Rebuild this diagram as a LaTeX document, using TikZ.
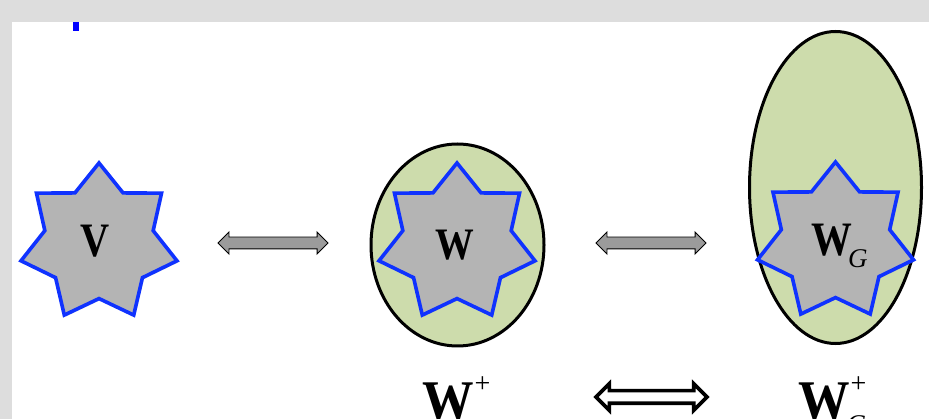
\documentclass[tikz,border=0pt]{standalone}
\usepackage{fontspec}
\setmainfont{Liberation Serif}
\usetikzlibrary{shapes.geometric,shapes.arrows,shadows}
\definecolor{bggray}{RGB}{221,221,221}
\definecolor{stargray}{RGB}{180,180,180}
\definecolor{starblue}{RGB}{15,50,255}
\definecolor{palegreen}{RGB}{205,220,172}
\definecolor{arrowgray}{RGB}{155,155,155}
\newcommand\hsq[2]{\scalebox{#1}[1]{#2}}
\begin{document}
\begin{tikzpicture}[x=1pt,y=-1pt,
  starbox/.style={star, star points=7, star point ratio=1.44, minimum size=160pt, inner sep=0pt,
    fill=stargray, draw=starblue, line width=3.6pt,
    drop shadow={opacity=0.25, shadow xshift=1.5pt, shadow yshift=-1.5pt}},
  blob/.style={ellipse, fill=palegreen, draw=black, line width=3pt, inner sep=0pt},
  grayarrow/.style={double arrow, fill=arrowgray, draw=black, line width=0.9pt,
    inner xsep=0pt, inner ysep=5.5pt, double arrow head extend=5pt,
    double arrow tip angle=90, minimum height=110pt},
  hollowarrow/.style={double arrow, fill=white, draw=black, line width=3.6pt,
    inner xsep=0pt, inner ysep=4.5pt, double arrow head extend=7pt,
    double arrow tip angle=90, minimum height=111pt},
  lbl/.style={anchor=base west, inner sep=0pt, font=\bfseries}
]
\useasboundingbox (0,0) rectangle (929,419);
\clip (0,0) rectangle (929,419);
\fill[bggray] (0,0) rectangle (929,419);
\fill[white] (12,22) rectangle (929,419);
\fill[blue] (73,22) rectangle (79,31);

\node[blob, minimum width=173pt, minimum height=202pt] (ellw) at (457.5,245) {};
\node[blob, minimum width=172pt, minimum height=312pt] (ellwg) at (835.5,187.5) {};

\node[starbox] (sv) at (99,243) {};
\node[starbox] (sw) at (457,243) {};
\node[starbox] (swg) at (835.5,242) {};

\node[lbl] (tv) at (80,257) {\fontsize{48}{48}\selectfont\hsq{0.84}{V}};
\node[lbl] (tw) at (435,260) {\fontsize{45}{45}\selectfont\hsq{0.86}{W}};
\node[lbl] (twg) at (811,256) {\fontsize{48}{48}\selectfont\hsq{0.85}{W}\hspace{-4pt}\raisebox{-12pt}{\fontsize{27}{27}\selectfont\mdseries\itshape G}};

\node[grayarrow] (a1) at (273,243) {};
\node[grayarrow] (a2) at (651,243) {};

\node[lbl] (twp) at (422,419) {\fontsize{56}{56}\selectfont\hsq{0.92}{W}\hspace{1pt}\raisebox{26pt}{\fontsize{28}{28}\selectfont\mdseries +}};
\node[lbl] (twgp) at (798,419) {\fontsize{56}{56}\selectfont\hsq{0.92}{W}\rlap{\hspace{1pt}\raisebox{26pt}{\fontsize{28}{28}\selectfont\mdseries +}}\hspace{-3pt}\raisebox{-14pt}{\fontsize{27}{27}\selectfont\mdseries\itshape G}};

\node[hollowarrow] (a3) at (651.5,397) {};
\end{tikzpicture}
\end{document}
